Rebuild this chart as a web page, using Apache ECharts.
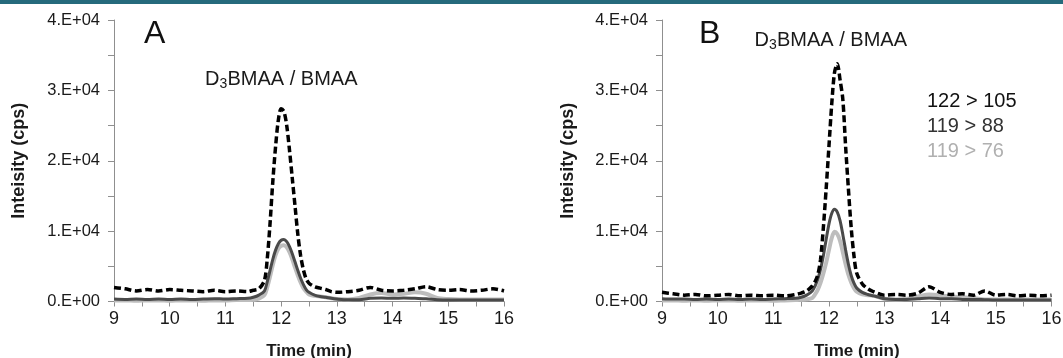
<!DOCTYPE html>
<html>
<head>
<meta charset="utf-8">
<script src="https://cdn.jsdelivr.net/npm/echarts@6/dist/echarts.min.js"></script>
<style>
html,body{margin:0;padding:0;background:#fff;}
#chart{width:1063px;height:358px;}
</style>
</head>
<body>
<div id="chart"></div>
<script>
// Shared retention-time axis (min)
const time = [9.0,9.2,9.4,9.6,9.8,10.0,10.2,10.4,10.6,10.8,11.0,11.2,11.4,11.5,11.6,
  11.7,11.75,11.8,11.85,11.9,11.95,12.0,12.05,12.1,12.15,12.2,12.25,12.3,12.35,12.4,12.45,12.5,
  12.6,12.7,12.8,12.9,13.0,13.2,13.4,13.6,13.8,14.0,14.2,14.4,14.6,14.8,15.0,15.2,15.4,15.6,15.8,16.0];

// Panel A
const a122_105 = [2000,1800,1500,1700,1500,1700,1600,1500,1400,1600,1400,1500,1400,1600,1800,
  3000,6000,11000,17000,22000,25800,27400,27000,25000,21500,17500,13500,9500,6500,4500,3200,2600,
  2100,1900,1700,1400,1300,1400,1600,2000,1600,1500,1600,1800,2100,1700,1600,1700,1500,1600,1800,1500];
const a119_88 = [350,300,350,300,350,300,350,300,350,400,350,400,450,600,900,
  1500,2800,4400,6000,7300,8200,8700,8800,8500,7800,6800,5600,4400,3300,2400,1700,1300,
  900,700,600,450,350,250,250,450,500,450,500,450,400,250,200,200,200,200,200,200];
const a119_76 = [150,150,100,150,150,100,150,150,100,150,150,200,200,250,400,
  900,2000,3500,5200,6600,7500,7900,8000,7700,7000,6000,4800,3700,2700,1900,1400,1000,
  800,700,600,450,350,300,500,1000,1200,1000,1100,1300,1100,500,350,300,300,300,300,300];

// Panel B
const b122_105 = [1300,1100,900,1000,800,900,1000,800,900,800,900,800,1000,1200,1500,
  2200,2800,3800,6000,10500,16000,22000,28000,32500,33800,31500,28700,22000,16000,10500,6500,4000,
  2500,1800,1400,1100,900,1000,900,1200,2100,1300,1000,1100,900,1500,900,1000,800,900,800,900];
const b119_88 = [400,350,350,300,350,300,350,300,350,300,350,400,450,600,900,
  1500,2200,3200,4600,6500,8800,11000,12500,13100,12700,11500,9500,7300,5300,3700,2600,1900,
  1300,1000,800,600,400,300,300,400,500,400,400,300,300,250,200,200,200,200,200,200];
const b119_76 = [150,150,100,150,100,150,150,100,150,150,100,150,200,250,300,
  500,1000,1700,2700,4000,5500,7300,9000,9900,9600,8600,7000,5300,3800,2700,1900,1400,
  1000,900,800,600,400,300,400,700,1000,900,700,600,500,300,300,300,300,300,300,300];

// Tick labels
const xTickValues = [9,10,11,12,13,14,15,16];
const xTickLabels = ['9','10','11','12','13','14','15','16'];
const yTickValues = [0,10000,20000,30000,40000];
const yTickLabels = ['0.E+00','1.E+04','2.E+04','3.E+04','4.E+04'];

const seriesNames = ['122 > 105','119 > 88','119 > 76'];
const panelLetters = ['A','B'];
const compoundLabel = ['D','3','BMAA / BMAA'];

const FONT = "'Liberation Sans', Arial, Helvetica, sans-serif";
const AXIS_COLOR = '#8f8f8f';
const COLORS = {dash:'#000000', dark:'#4a4a4a', light:'#bdbdbd'};

function pairs(arr){ return time.map((t,i)=>[t, arr[i]]); }
function xFmt(v){ const i = xTickValues.findIndex(x=>Math.abs(x-v)<1e-6); return i>=0 ? xTickLabels[i] : ''; }
function yFmt(v){ const i = yTickValues.indexOf(v); return i>=0 ? yTickLabels[i] : ''; }

function xAxis(gi){
  return {
    type:'value', gridIndex:gi, min:9, max:16, interval:0.5,
    name:'Time (min)', nameLocation:'middle', nameGap:41,
    nameTextStyle:{fontFamily:FONT,fontSize:17,fontWeight:'bold',color:'#1a1a1a'},
    axisLine:{show:true,onZero:false,lineStyle:{color:AXIS_COLOR,width:1}},
    axisTick:{show:true,inside:false,length:5,lineStyle:{color:AXIS_COLOR}},
    axisLabel:{formatter:xFmt,fontFamily:FONT,fontSize:18,color:'#1a1a1a',margin:9,showMinLabel:true,showMaxLabel:true},
    splitLine:{show:false}
  };
}
function yAxis(gi, gap){
  return {
    type:'value', gridIndex:gi, min:0, max:40000, interval:5000,
    name:'Inteisity (cps)', nameLocation:'middle', nameGap:gap,
    nameTextStyle:{fontFamily:FONT,fontSize:18,fontWeight:'bold',color:'#1a1a1a'},
    axisLine:{show:true,lineStyle:{color:AXIS_COLOR,width:1}},
    axisTick:{show:true,inside:false,length:6,lineStyle:{color:AXIS_COLOR}},
    axisLabel:{formatter:yFmt,fontFamily:FONT,fontSize:16.5,color:'#1a1a1a',margin:14},
    splitLine:{show:false}
  };
}
function lines(gi, dash, dark, light){
  return [
    {name:seriesNames[2], type:'line', xAxisIndex:gi, yAxisIndex:gi, data:pairs(light), showSymbol:false, smooth:0.3,
     lineStyle:{color:COLORS.light,width:4}, z:2, silent:true},
    {name:seriesNames[1], type:'line', xAxisIndex:gi, yAxisIndex:gi, data:pairs(dark), showSymbol:false, smooth:0.3,
     lineStyle:{color:COLORS.dark,width:3}, z:3, silent:true},
    {name:seriesNames[0], type:'line', xAxisIndex:gi, yAxisIndex:gi, data:pairs(dash), showSymbol:false, smooth:0.3,
     lineStyle:{color:COLORS.dash,width:3.5,type:[7,3.5]}, z:4, silent:true}
  ];
}
function compoundText(left, top){
  const st = {fontFamily:FONT,fill:'#1a1a1a'};
  return [
    {type:'text', left:left, top:top, z:10, style:Object.assign({text:compoundLabel[0],fontSize:20},st)},
    {type:'text', left:left+14.5, top:top+8, z:10, style:Object.assign({text:compoundLabel[1],fontSize:14},st)},
    {type:'text', left:left+22.5, top:top, z:10, style:Object.assign({text:compoundLabel[2],fontSize:20},st)}
  ];
}

const chart = echarts.init(document.getElementById('chart'), null, {renderer:'canvas'});
chart.setOption({
  animation:false,
  backgroundColor:'#ffffff',
  grid:[
    {left:114, right:559, top:20, bottom:56.5, containLabel:false, outerBoundsMode:'none'},
    {left:662, right:11.5, top:20, bottom:56.5, containLabel:false, outerBoundsMode:'none'}
  ],
  xAxis:[xAxis(0), xAxis(1)],
  yAxis:[yAxis(0,86), yAxis(1,85)],
  series:[].concat(lines(0,a122_105,a119_88,a119_76), lines(1,b122_105,b119_88,b119_76)),
  graphic:[
    {type:'rect', left:0, top:0, shape:{width:1063,height:4}, style:{fill:'#256a7c'}, z:10},
    {type:'text', left:144, top:18, z:10, style:{text:panelLetters[0],fontFamily:FONT,fontSize:32,fill:'#111'}},
    {type:'text', left:699, top:18, z:10, style:{text:panelLetters[1],fontFamily:FONT,fontSize:32,fill:'#111'}}
  ].concat(compoundText(205, 69), compoundText(754.5, 30), [
    {type:'text', left:927, top:91, z:10, style:{text:seriesNames[0],fontFamily:FONT,fontSize:20,fill:'#111'}},
    {type:'text', left:927, top:116, z:10, style:{text:seriesNames[1],fontFamily:FONT,fontSize:20,fill:'#333'}},
    {type:'text', left:927, top:141, z:10, style:{text:seriesNames[2],fontFamily:FONT,fontSize:20,fill:'#b0b0b0'}}
  ])
});
</script>
</body>
</html>
